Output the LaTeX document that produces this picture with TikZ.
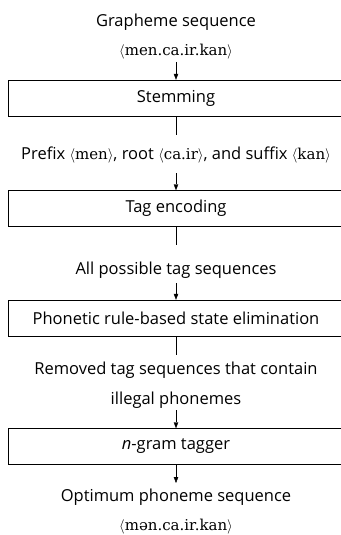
\documentclass[tikz,border=0pt]{standalone}
\usepackage{fontspec}
\setmainfont{Open Sans}
\newfontfamily\ipafont{DejaVu Serif}
\usetikzlibrary{arrows.meta}
\newcommand{\form}[1]{{\ipafont\fontsize{15}{17}\selectfont$\langle$#1$\rangle$}}
\begin{document}
\begin{tikzpicture}[x=1pt,y=-1pt,
  font=\fontsize{16.5}{19}\selectfont,
  stagebox/.style={draw,minimum width=336pt,minimum height=36pt,inner sep=0pt},
  flow/.style={-{Triangle[length=6pt,width=4.5pt]}}]
\useasboundingbox (0,0) rectangle (340,535);
% input
\node (graph) at (176,22) {Grapheme sequence};
\node (gform) at (176,52) {\form{men.ca.ir.kan}};
\node[stagebox] (stem) at (176,98) {Stemming};
\draw[flow] (176,62) coordinate (a1) -- (stem);
\coordinate (s1) at (176,135);
\draw (stem) -- (s1);
% stemming output
\node (parts) at (176,155) {Prefix \form{men}, root \form{ca.ir}, and suffix \form{kan}};
\coordinate (a2) at (176,173);
\node[stagebox] (tag) at (176,208.5) {Tag encoding};
\draw[flow] (a2) -- (tag);
\coordinate (s2) at (176,245);
\draw (tag) -- (s2);
% tag sequences
\node (tags) at (176,270) {All possible tag sequences};
\coordinate (a3) at (176,283);
\node[stagebox] (elim) at (176,318) {Phonetic rule-based state elimination};
\draw[flow] (a3) -- (elim);
\coordinate (s3) at (176,355);
\draw (elim) -- (s3);
\node (kept) at (176,370) {Removed tag sequences that contain};
\node (kept2) at (176,400) {illegal phonemes};
\coordinate (a4) at (176,410);
\node[stagebox] (ngram) at (176,446.5) {\textit{n}-gram tagger};
\draw[flow] (a4) -- (ngram);
% output
\coordinate (a5) at (176,483);
\draw[flow] (ngram) -- (a5);
\node (opt) at (176,497) {Optimum phoneme sequence};
\node (pform) at (176,527) {\form{mən.ca.ir.kan}};
\end{tikzpicture}
\end{document}
